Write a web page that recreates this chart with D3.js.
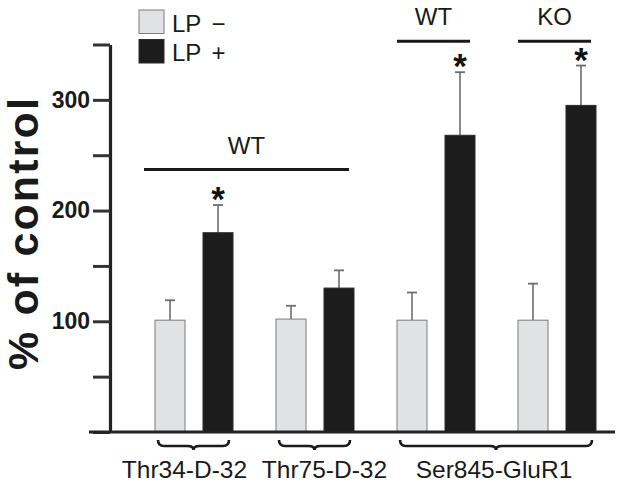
<!DOCTYPE html>
<html>
<head>
<meta charset="utf-8">
<script src="https://cdn.jsdelivr.net/npm/d3@7"></script>
<style>
  html, body { margin: 0; padding: 0; background: #fff; }
  svg { display: block; font-family: "Liberation Sans", Arial, Helvetica, sans-serif; }
</style>
</head>
<body>
<svg id="chart" width="629" height="486"></svg>
<script>
// ---- data ----
const groups = ["Thr34-D-32", "Thr75-D-32", "Ser845-GluR1 WT", "Ser845-GluR1 KO"];
const seriesNames = ["LP \u2212", "LP +"];
const lpMinus = [101, 102, 101, 101];
const lpPlus = [180, 130, 268, 295];
const errMinus = [18, 12, 25, 33];
const errPlus = [25, 16, 57, 36];
const starPlus = [true, false, true, true];
const yTickValues = [0, 50, 100, 150, 200, 250, 300, 350];
const yTickLabels = [100, 200, 300];
const categoryLabels = ["Thr34-D-32", "Thr75-D-32", "Ser845-GluR1"];
const categoryFirst = [0, 1, 2];
const categoryLast = [0, 1, 3];
const bracketLabels = ["WT", "WT", "KO"];
const bracketFirst = [0, 2, 3];
const bracketLast = [1, 2, 3];
const bracketLevel = [237, 353, 353];

// ---- layout ----
const svg = d3.select("#chart");
const axisX = 110;
const y = d3.scaleLinear().domain([0, 350]).range([432, 44.5]);
const x0 = d3.scaleBand().domain(groups).range([133.5, 617.5]).padding(0);
const x1 = d3.scaleBand().domain(seriesNames).range([0, x0.bandwidth()]).paddingInner(0.375).paddingOuter(0.448);
const fills = ["#e1e2e4", "#1c1c1c"];
const strokes = ["#7d7d7d", "#2a2a2a"];
const labelShift = [-9, 10, -2];

const rows = [];
groups.forEach((g, i) => {
  rows.push({ g, s: seriesNames[0], si: 0, v: lpMinus[i], e: errMinus[i], star: false });
  rows.push({ g, s: seriesNames[1], si: 1, v: lpPlus[i], e: errPlus[i], star: starPlus[i] });
});
const bx = d => x0(d.g) + x1(d.s);
const bw = x1.bandwidth();

// error bars (behind bars)
const eb = svg.append("g");
eb.selectAll("line.v").data(rows).join("line")
  .attr("x1", d => bx(d) + bw / 2).attr("x2", d => bx(d) + bw / 2)
  .attr("y1", d => y(d.v)).attr("y2", d => y(d.v + d.e))
  .attr("stroke", "#6e6e6e").attr("stroke-width", 1.6);
eb.selectAll("line.c").data(rows).join("line")
  .attr("x1", d => bx(d) + bw / 2 - 5).attr("x2", d => bx(d) + bw / 2 + 5)
  .attr("y1", d => y(d.v + d.e)).attr("y2", d => y(d.v + d.e))
  .attr("stroke", "#6e6e6e").attr("stroke-width", 1.8);

// bars
svg.append("g").selectAll("rect").data(rows).join("rect")
  .attr("x", d => bx(d)).attr("width", bw)
  .attr("y", d => y(d.v)).attr("height", d => y(0) - y(d.v))
  .attr("fill", d => fills[d.si]).attr("stroke", d => strokes[d.si]).attr("stroke-width", 1);

// stars
svg.append("g").selectAll("text").data(rows.filter(d => d.star)).join("text")
  .attr("x", d => bx(d) + bw / 2).attr("y", d => y(d.v + d.e) + 6)
  .attr("text-anchor", "middle").attr("font-size", 35).attr("font-weight", "bold")
  .attr("fill", "#111").text("*");

// y axis
const yAxis = d3.axisLeft(y).tickValues(yTickValues).tickSize(17).tickSizeOuter(0).tickPadding(3)
  .tickFormat(d => yTickLabels.includes(d) ? d : "");
const ya = svg.append("g").attr("transform", `translate(${axisX},0)`).call(yAxis);
ya.select(".domain").attr("stroke", "#222").attr("stroke-width", 3.2);
ya.selectAll(".tick line").attr("stroke", "#333").attr("stroke-width", 3);
ya.selectAll(".tick text").attr("font-size", 23).attr("font-weight", "bold").attr("fill", "#1a1a1a")
  .attr("font-family", "'Liberation Sans', Arial, sans-serif");

// x baseline
svg.append("line").attr("x1", 89).attr("x2", 615).attr("y1", y(0)).attr("y2", y(0))
  .attr("stroke", "#222").attr("stroke-width", 3.2);

// y title
svg.append("text").attr("transform", "translate(38,234) rotate(-90)")
  .attr("text-anchor", "middle").attr("font-size", 43).attr("font-weight", "bold")
  .attr("textLength", 272).attr("lengthAdjust", "spacing")
  .attr("fill", "#1a1a1a").text("% of control");

// braces + category labels
const braceY = 440;
categoryLabels.forEach((lab, i) => {
  const xa = x0(groups[categoryFirst[i]]) + x1(seriesNames[0]) + 3;
  const xb = x0(groups[categoryLast[i]]) + x1(seriesNames[1]) + bw - 4;
  const xm = (xa + xb) / 2;
  const p = `M${xa},${braceY} Q${xa},${braceY + 6} ${xa + 6},${braceY + 6} L${xm - 6},${braceY + 6} Q${xm},${braceY + 6} ${xm},${braceY + 10} Q${xm},${braceY + 6} ${xm + 6},${braceY + 6} L${xb - 6},${braceY + 6} Q${xb},${braceY + 6} ${xb},${braceY}`;
  svg.append("path").attr("d", p).attr("fill", "none").attr("stroke", "#1a1a1a").attr("stroke-width", 2.6);
  svg.append("text").attr("x", xm + labelShift[i]).attr("y", 478).attr("text-anchor", "middle")
    .attr("font-size", 24.5).attr("fill", "#1a1a1a").text(lab);
});

// brackets (genotype)
bracketLabels.forEach((lab, i) => {
  const xa = x0(groups[bracketFirst[i]]) + x1(seriesNames[0]) + (bracketFirst[i] === bracketLast[i] ? 0 : -11);
  const xb = x0(groups[bracketLast[i]]) + x1(seriesNames[1]) + bw - 5;
  const ly = y(bracketLevel[i]);
  svg.append("line").attr("x1", xa).attr("x2", xb).attr("y1", ly).attr("y2", ly)
    .attr("stroke", "#1a1a1a").attr("stroke-width", 3);
  svg.append("text").attr("x", (xa + xb) / 2).attr("y", ly - 16).attr("text-anchor", "middle")
    .attr("font-size", 24).attr("fill", "#1a1a1a").text(lab);
});

// legend
const leg = svg.append("g").attr("transform", "translate(139,10)");
seriesNames.forEach((s, i) => {
  leg.append("rect").attr("x", 0).attr("y", i * 29.5).attr("width", 25).attr("height", 23.5)
    .attr("fill", fills[i]).attr("stroke", strokes[i]).attr("stroke-width", 1);
  leg.append("text").attr("x", 33).attr("y", i * 29.5 + 21.5).attr("font-size", 24)
    .attr("fill", "#1a1a1a").attr("word-spacing", 4).text(s);
});
</script>
</body>
</html>
